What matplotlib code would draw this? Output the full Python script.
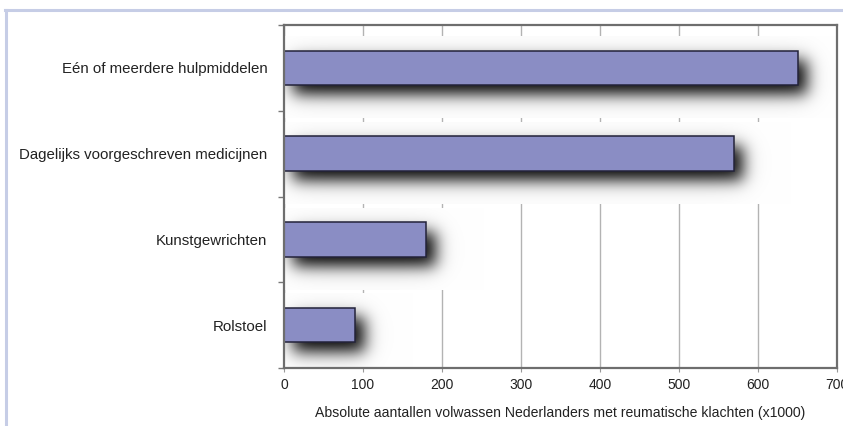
import numpy as np
import matplotlib
matplotlib.use("Agg")
import matplotlib.pyplot as plt
from matplotlib.lines import Line2D

# data
categories = ["Eén of meerdere hulpmiddelen", "Dagelijks voorgeschreven medicijnen",
              "Kunstgewrichten", "Rolstoel"]
values = [650, 570, 180, 90]
xticks = [0, 100, 200, 300, 400, 500, 600, 700]
xlabel = "Absolute aantallen volwassen Nederlanders met reumatische klachten (x1000)"

plt.rcParams["font.family"] = ["Liberation Sans", "DejaVu Sans"]

W, H, DPI = 843, 426, 100
fig = plt.figure(figsize=(W / DPI, H / DPI), dpi=DPI)

# light blue frame round the chart
frame_col = "#c6cde6"
fig.add_artist(Line2D([5 / W, 1], [1 - 10 / H] * 2, color=frame_col, lw=2.2))
fig.add_artist(Line2D([6 / W] * 2, [0, 1 - 10 / H], color=frame_col, lw=2.2))

left, right, top, bottom = 284, 837, 25, 368
ax = fig.add_axes([left / W, 1 - bottom / H, (right - left) / W, (bottom - top) / H])

xmax = 700
px_per_x = (right - left) / xmax
px_per_y = (bottom - top) / len(categories)
bar_h = 0.40


def blur(a, sigma):
    r = int(3 * sigma)
    k = np.exp(-0.5 * (np.arange(-r, r + 1) / sigma) ** 2)
    k /= k.sum()
    a = np.apply_along_axis(lambda m: np.convolve(m, k, mode="same"), 0, a)
    a = np.apply_along_axis(lambda m: np.convolve(m, k, mode="same"), 1, a)
    return a


# soft drop shadow behind each bar (white box that also hides the gridlines)
dx, dy = 9, 10
for i, v in enumerate(values):
    y0 = i - bar_h / 2 - 0.165
    y1 = i + bar_h / 2 + 0.39
    x1 = min(v + 80, xmax)
    nx = int(round(x1 * px_per_x))
    ny = int(round((y1 - y0) * px_per_y))
    pad = 50
    img = np.zeros((ny + 2 * pad, nx + 2 * pad))
    bx0 = pad + dx
    bx1 = pad + int(round(v * px_per_x)) + dx
    by0 = pad + int(round((i - bar_h / 2 - y0) * px_per_y)) + dy
    by1 = pad + int(round((i + bar_h / 2 - y0) * px_per_y)) + dy
    img[by0:by1, bx0:bx1] = 1.0
    sharp = blur(img, 7.5)
    wide = blur(img, 16)
    alpha = np.clip(1.0 * sharp + 0.2 * wide, 0, 1)[pad:-pad, pad:-pad]
    rgb = np.ones((ny, nx, 3))
    rgb *= (1 - alpha[..., None] * (1 - 0.15))
    ax.imshow(rgb, extent=(0, x1, y1, y0), aspect="auto", zorder=1.5,
              interpolation="bilinear")

ax.barh(range(len(categories)), values, height=bar_h, color="#8a8dc4",
        edgecolor="#23233a", linewidth=1.1, zorder=3)

ax.set_xlim(0, xmax)
ax.set_ylim(len(categories) - 0.5, -0.5)
ax.set_xticks(xticks)
ax.set_xticklabels([str(t) for t in xticks], fontsize=10, color="#222222")
ax.set_yticks(range(len(categories)))
ax.set_yticklabels(categories, fontsize=10.8, color="#222222")
ax.set_yticks(np.arange(-0.5, len(categories), 1), minor=True)
ax.tick_params(axis="y", which="major", length=0, pad=12)
ax.tick_params(axis="y", which="minor", length=4, width=1, color="#777777",
               direction="out")
ax.tick_params(axis="x", length=3, width=0.8, color="#999999", pad=4)
ax.xaxis.grid(True, color="#b3b3b3", linewidth=1)
ax.set_axisbelow(True)
for s in ax.spines.values():
    s.set_color("#6e6e6e")
    s.set_linewidth(1.6)
    s.set_zorder(4)

ax.set_xlabel(xlabel, fontsize=10.1, color="#222222", labelpad=10)

fig.savefig("out.png", dpi=DPI)
